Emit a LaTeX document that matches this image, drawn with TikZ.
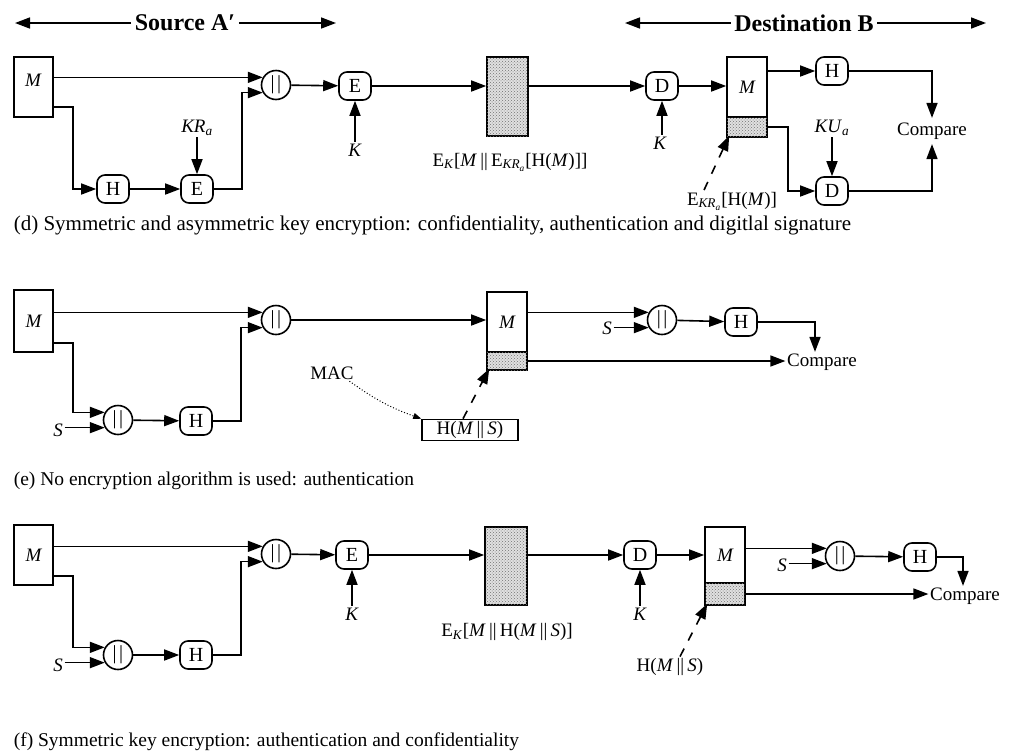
\documentclass[tikz,border=0pt]{standalone}
\usepackage{fontspec}
\setmainfont{Liberation Serif}
\usetikzlibrary{arrows.meta,calc,patterns}
\newcommand{\cc}{\textbar\kern2.5pt\textbar}
\begin{document}
\begin{tikzpicture}[x=1pt,y=-1pt,
  line width=1.6pt,
  arr/.style={-{Triangle[length=15pt,width=11pt]}},
  box/.style={draw,line width=1.6pt,inner sep=0pt,font=\fontsize{19}{20}\selectfont\itshape},
  op/.style={draw,rounded corners=8pt,minimum width=32pt,minimum height=28pt,inner sep=0pt,font=\fontsize{20}{20}\selectfont},
  cat/.style={draw,circle,minimum size=29pt,inner sep=0pt,font=\fontsize{20}{20}\selectfont},
  lab/.style={font=\fontsize{19}{20}\selectfont,inner sep=1pt},
  captxt/.style={font=\fontsize{19.5}{20}\selectfont,inner sep=1pt,anchor=west},
  hdr/.style={font=\bfseries\fontsize{24}{24}\selectfont,inner sep=3pt},
  shade/.style={fill=black!12,postaction={pattern=crosshatch dots,pattern color=black!55}},
  dsh/.style={dashed,dash pattern=on 9pt off 9pt,-{Triangle[length=15pt,width=11pt]}},
]
\useasboundingbox (0,0) rectangle (1015,753);

% ---------- headers ----------
\node[hdr] (src) at (185,23) {Source A′};
\coordinate (srcL) at (15,23);
\coordinate (srcR) at (336,23);
\draw[arr] (src.west) -- (srcL);
\draw[arr] (src.east) -- (srcR);
\node[hdr] (dst) at (804,23) {Destination B};
\coordinate (dstL) at (625,23);
\coordinate (dstR) at (986,23);
\draw[arr] (dst.west) -- (dstL);
\draw[arr] (dst.east) -- (dstR);

% ---------- panel (d) ----------
\node[box,minimum width=39pt,minimum height=60pt] (Md) at (33.5,87) {};
\node[lab,font=\fontsize{19}{20}\selectfont\itshape] (Mdt) at (33,80) {M};
\node[cat] (cd1) at (276,85) {\cc};
\node[op] (Hd1) at (113,189) {H};
\node[op] (Ed1) at (197,189) {E};
\node[lab] (KRa) at (197,128) {\textit{KR}\textsubscript{\textit{a}}};
\node[op] (Ed2) at (355,86) {E};
\node[lab] (Kd1) at (355,150) {\textit{K}};
\node[box,shade,minimum width=41pt,minimum height=79pt] (Cd) at (507.5,96.5) {};
\node[lab] (Ld1) at (510,162) {E\textsubscript{\textit{K}}[\textit{M}\,||\,E\textsubscript{\textit{KR}\textsubscript{\textit{a}}}[H(\textit{M})]]};
\node[op] (Dd1) at (662,86) {D};
\node[lab] (Kd2) at (660,143) {\textit{K}};
\node[box,minimum width=40pt,minimum height=60pt] (MBd) at (747,87) {M};
\node[box,shade,minimum width=40pt,minimum height=20pt] (SBd) at (747,127) {};
\node[op] (Hd2) at (832,71) {H};
\node[lab,inner sep=4pt] (Cmpd) at (932,131) {Compare};
\node[lab] (KUa) at (832,128) {\textit{KU}\textsubscript{\textit{a}}};
\node[op] (Dd2) at (832,191) {D};
\node[lab] (Ld2) at (732,201) {E\textsubscript{\textit{KR}\textsubscript{\textit{a}}}[H(\textit{M})]};

\draw[arr] (Md.east |- cd1.150) -- (cd1.150);
\draw[arr] ([yshift=11pt]Md.south east) -- ++(19,0) |- (Hd1.west);
\draw[arr] (Hd1) -- (Ed1);
\draw[arr] (KRa) -- (Ed1);
\draw[arr] (Ed1.east) -- ++(28,0) |- (cd1.210);
\draw[arr] (cd1) -- (Ed2);
\draw[arr] (Kd1) -- (Ed2);
\draw[arr] (Ed2.east) -- (Ed2.east -| Cd.west);
\draw[arr] (Cd.east |- Dd1) -- (Dd1);
\draw[arr] (Kd2.north -| Dd1.south) -- (Dd1.south);
\draw[arr] (Dd1) -- (Dd1 -| MBd.west);
\draw[arr] (MBd.east |- Hd2) -- (Hd2);
\draw[arr] (Hd2.east) -| (Cmpd.north);
\draw[arr] (SBd.east) -- ++(20,0) |- (Dd2.west);
\draw[arr] (KUa) -- (Dd2);
\draw[arr] (Dd2.east) -| (Cmpd.south);
\draw[dsh] ([xshift=-28pt]Ld2.north) -- ([xshift=3pt,yshift=2pt]SBd.south west);

\node[captxt,font=\fontsize{21}{22}\selectfont] (capd) at (12,225) {(d) Symmetric and asymmetric key encryption: confidentiality, authentication and digitlal signature};

% ---------- panel (e) ----------
\node[box,minimum width=39pt,minimum height=62pt] (Me) at (33.5,321) {M};
\node[cat] (ce1) at (276,320) {\cc};
\node[cat] (ce2) at (118,420) {\cc};
\node[lab,font=\fontsize{19}{20}\selectfont\itshape] (Se1) at (58,430) {S};
\node[op] (He1) at (196,421) {H};
\node[box,minimum width=40pt,minimum height=60pt] (MBe) at (507,322) {M};
\node[box,shade,minimum width=40pt,minimum height=18pt] (SBe) at (507,361) {};
\node[cat] (ce3) at (662,320) {\cc};
\node[lab,font=\fontsize{19}{20}\selectfont\itshape] (Se2) at (607,328) {S};
\node[op] (He2) at (741,322) {H};
\node[lab] (Cmpe) at (822,362) {Compare};
\node[box,font=\fontsize{19}{20}\selectfont,minimum width=96pt,minimum height=21pt] (HMS) at (470,430) {H(\textit{M}\,||\,\textit{S})};
\node[lab] (MAC) at (332,373) {MAC};

\draw[arr] (Me.east |- ce1.150) -- (ce1.150);
\draw[arr] ([yshift=10pt]Me.south east) -- ++(19,0) |- (ce2.150);
\draw[arr] (Se1.east |- ce2.210) -- (ce2.210);
\draw[arr] (ce2) -- (He1);
\draw[arr] (He1.east) -- ++(28,0) |- (ce1.210);
\draw[arr] (ce1) -- (ce1 -| MBe.west);
\draw[arr] (MBe.east |- ce3.150) -- (ce3.150);
\draw[arr] (Se2.east |- ce3.210) -- (ce3.210);
\draw[arr] (ce3) -- (He2);
\draw[arr] (He2.east) -| ([xshift=-7pt]Cmpe.north);
\draw[arr] (SBe.east) -- (SBe.east -| Cmpe.west);
\draw[dsh] ([xshift=-7pt]HMS.north) -- ([xshift=3pt,yshift=2pt]SBe.south west);
\draw[dotted,line width=1pt,-{Triangle[length=8pt,width=6pt]}] ([xshift=-6pt]MAC.south east) to[bend right=8] (HMS.north west);

\node[captxt] (cape) at (12,481) {(e) No encryption algorithm is used: authentication};

% ---------- panel (f) ----------
\node[box,minimum width=39pt,minimum height=60pt] (Mf) at (33.5,555) {M};
\node[cat] (cf1) at (276,554) {\cc};
\node[cat] (cf2) at (118,655) {\cc};
\node[lab,font=\fontsize{19}{20}\selectfont\itshape] (Sf1) at (58,665) {S};
\node[op] (Hf1) at (196,655) {H};
\node[op] (Ef1) at (352,555) {E};
\node[lab] (Kf1) at (352,614) {\textit{K}};
\node[box,shade,minimum width=42pt,minimum height=78pt] (Cf) at (506,566) {};
\node[lab] (Lf1) at (507,632) {E\textsubscript{\textit{K}}[\textit{M}\,||\,H(\textit{M}\,||\,\textit{S})]};
\node[op] (Df1) at (640,555) {D};
\node[lab] (Kf2) at (640,614) {\textit{K}};
\node[box,minimum width=40pt,minimum height=56pt] (MBf) at (725,555) {M};
\node[box,shade,minimum width=40pt,minimum height=22pt] (SBf) at (725,594) {};
\node[cat] (cf3) at (840,556) {\cc};
\node[lab,font=\fontsize{19}{20}\selectfont\itshape] (Sf2) at (782,565) {S};
\node[op] (Hf2) at (920,557) {H};
\node[lab] (Cmpf) at (965,596) {Compare};
\node[lab] (Lf2) at (670,667) {H(\textit{M}\,||\,\textit{S})};

\draw[arr] (Mf.east |- cf1.150) -- (cf1.150);
\draw[arr] ([yshift=10pt]Mf.south east) -- ++(19,0) |- (cf2.150);
\draw[arr] (Sf1.east |- cf2.210) -- (cf2.210);
\draw[arr] (cf2) -- (Hf1);
\draw[arr] (Hf1.east) -- ++(28,0) |- (cf1.210);
\draw[arr] (cf1) -- (Ef1);
\draw[arr] (Kf1) -- (Ef1);
\draw[arr] (Ef1.east) -- (Ef1.east -| Cf.west);
\draw[arr] (Cf.east |- Df1) -- (Df1);
\draw[arr] (Kf2) -- (Df1);
\draw[arr] (Df1) -- (Df1 -| MBf.west);
\draw[arr] (MBf.east |- cf3.150) -- (cf3.150);
\draw[arr] (Sf2.east |- cf3.210) -- (cf3.210);
\draw[arr] (cf3) -- (Hf2);
\draw[arr] (Hf2.east) -| ([xshift=-2pt]Cmpf.north);
\draw[arr] (SBf.east) -- (SBf.east -| Cmpf.west);
\draw[dsh] ([xshift=10pt]Lf2.north) -- ([xshift=3pt,yshift=2pt]SBf.south west);

\node[captxt] (capf) at (12,742) {(f) Symmetric key encryption: authentication and confidentiality};
\end{tikzpicture}
\end{document}
